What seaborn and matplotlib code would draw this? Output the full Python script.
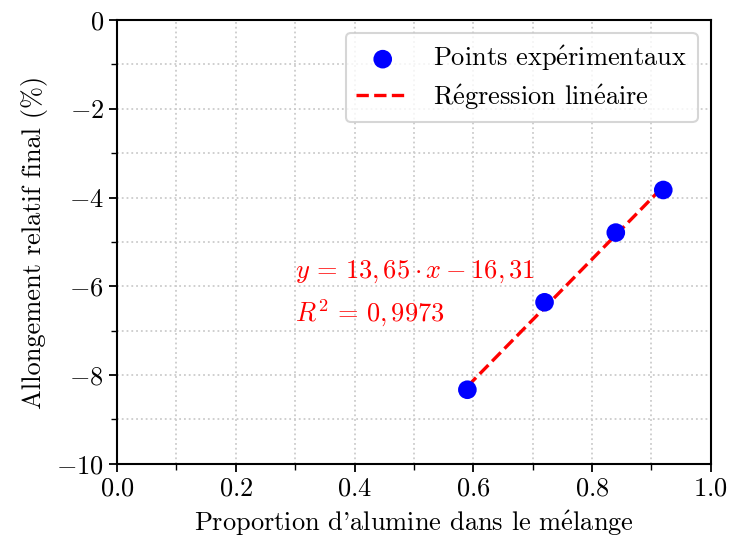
import matplotlib
matplotlib.use("Agg")
import matplotlib.pyplot as plt
import seaborn as sns
import numpy as np
import pandas as pd
from matplotlib.ticker import MultipleLocator

# Data
proportion = [0.59, 0.72, 0.84, 0.92]
allongement = [-8.33, -6.36, -4.79, -3.83]
slope = 13.65
intercept = -16.31
r2 = 0.9973

sns.set_style("ticks")
plt.rcParams["font.family"] = ["cmr10", "DejaVu Serif"]
plt.rcParams["mathtext.fontset"] = "cm"
plt.rcParams["axes.formatter.use_mathtext"] = True
plt.rcParams["axes.unicode_minus"] = True
for k in ["text.color", "axes.labelcolor", "xtick.color", "ytick.color", "axes.edgecolor"]:
    plt.rcParams[k] = "black"

fig, ax = plt.subplots(figsize=(7.32, 5.4), dpi=100)
fig.subplots_adjust(left=0.16, right=0.971, top=0.963, bottom=0.141)

df = pd.DataFrame({"x": proportion, "y": allongement})
xfit = np.array([min(proportion), max(proportion)])
dfit = pd.DataFrame({"x": xfit, "y": slope * xfit + intercept})

sns.lineplot(data=dfit, x="x", y="y", ax=ax, color="red", linestyle="--",
             linewidth=2.4, label="R$\\mathrm{\\'e}$gression lin$\\mathrm{\\'e}$aire", zorder=2)
sns.scatterplot(data=df, x="x", y="y", ax=ax, color="blue", s=180, edgecolor="none",
                label="Points exp$\\mathrm{\\'e}$rimentaux", zorder=3)

ax.set_xlim(0, 1)
ax.set_ylim(-10, 0)
ax.xaxis.set_major_locator(MultipleLocator(0.2))
ax.xaxis.set_minor_locator(MultipleLocator(0.1))
ax.yaxis.set_major_locator(MultipleLocator(2))
ax.yaxis.set_minor_locator(MultipleLocator(1))
ax.xaxis.set_major_formatter(matplotlib.ticker.FormatStrFormatter("$%.1f$"))
ax.yaxis.set_major_formatter(matplotlib.ticker.FuncFormatter(
    lambda v, p: "$%d$" % round(v) if round(v) == 0 else "$-%d$" % abs(round(v))))
ax.grid(True, which="both", linestyle=":", color="#cccccc", linewidth=1.3)
ax.tick_params(which="major", length=6, width=1.3, labelsize=19, direction="out", colors="black")
ax.tick_params(which="minor", length=4, width=1.0, direction="out", colors="black")
for s in ax.spines.values():
    s.set_linewidth(1.5)
    s.set_color("black")

ax.set_xlabel("Proportion d'alumine dans le m$\\mathrm{\\'e}$lange", fontsize=19, labelpad=6, color="black")
ax.set_ylabel("Allongement relatif final (%)", fontsize=19, labelpad=6, color="black")

eq1 = "$y\\,=\\,%s{,}\\,%s\\cdot x-%s{,}\\,%s$" % ("13", "65", "16", "31")
eq2 = "$R^2\\,=\\,0{,}\\,9973$"
ax.text(0.3, -5.68, eq1, color="red", fontsize=19, va="center")
ax.text(0.3, -6.62, eq2, color="red", fontsize=19, va="center")

h, l = ax.get_legend_handles_labels()
order = [1, 0]
leg = ax.legend([h[i] for i in order], [l[i] for i in order], loc="upper right",
                fontsize=19, frameon=True, fancybox=True, handlelength=2.0,
                borderpad=0.4, labelspacing=0.35, handletextpad=0.9)
leg.get_frame().set_edgecolor("#cccccc")
leg.get_frame().set_linewidth(1.5)
for t in leg.get_texts():
    t.set_color("black")

fig.savefig("out.png", dpi=100)
